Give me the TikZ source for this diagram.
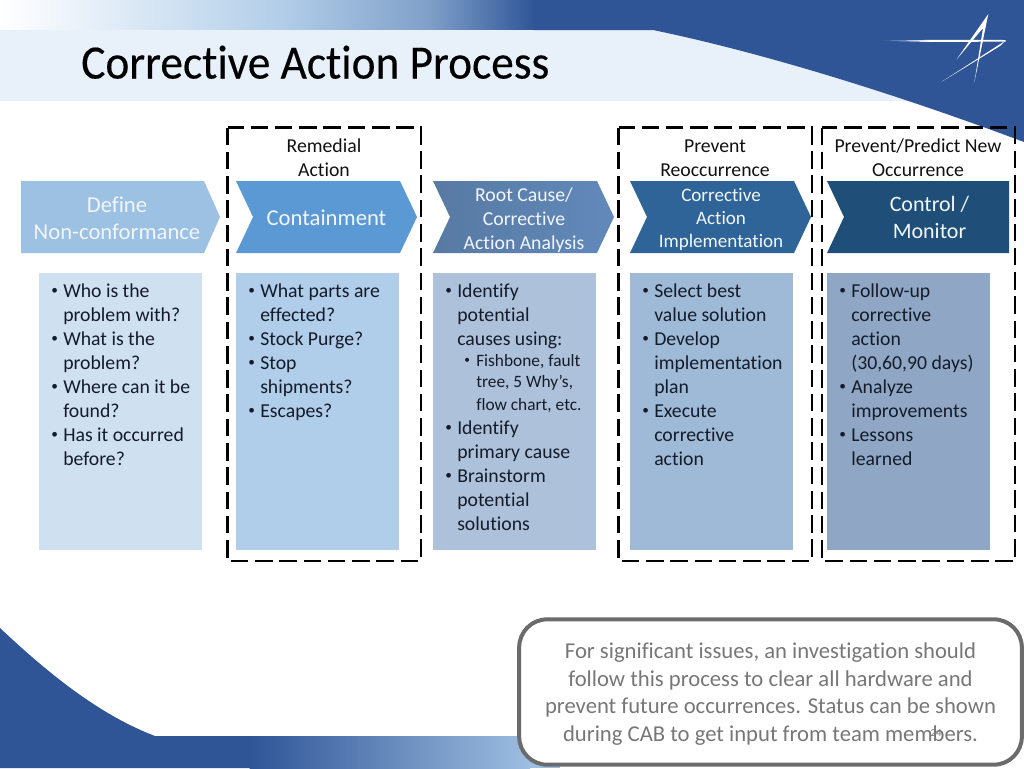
\documentclass[tikz,border=0pt]{standalone}
\usepackage{fontspec}
\setmainfont[Ligatures=CommonOff]{Carlito}
\newfontfamily\titlefont[Ligatures=CommonOff,FakeStretch=0.95,FakeBold=0.35]{Carlito}
\definecolor{swoosh}{HTML}{2F5597}
\definecolor{band}{HTML}{E8F1FA}
\definecolor{tb}{HTML}{E4EEF8}
\definecolor{tc}{HTML}{B2CEE8}
\definecolor{td}{HTML}{7F9FC8}
\definecolor{bb}{HTML}{9DBEE0}
\definecolor{bodyink}{HTML}{141C2B}
\definecolor{labelink}{HTML}{111111}
\definecolor{chevink}{HTML}{F1F6FB}
\definecolor{noteink}{HTML}{777777}
\definecolor{noteedge}{HTML}{6B6B6B}
\definecolor{cha}{HTML}{9DC1E3}
\definecolor{chb}{HTML}{5B99D5}
\definecolor{chcl}{HTML}{587AA3}
\definecolor{chcr}{HTML}{6189BA}
\definecolor{chd}{HTML}{2F6498}
\definecolor{che}{HTML}{1F4E79}
\definecolor{boxa}{HTML}{CFE0F1}
\definecolor{boxb}{HTML}{B0CDE9}
\definecolor{boxc}{HTML}{AEC1DA}
\definecolor{boxd}{HTML}{9FBAD6}
\definecolor{boxe}{HTML}{8FA7C4}
\tikzset{
  px/.style={x=0.75pt,y=-0.75pt},
  chevtext/.style={text=chevink,align=center,inner sep=0pt},
  steplabel/.style={text=labelink,align=center,inner sep=0pt,font=\fontsize{14.8}{18}\selectfont},
  bodytext/.style={text=bodyink,align=left,inner sep=0pt,anchor=north west,font=\fontsize{14.8}{18}\selectfont},
  subtext/.style={text=bodyink,align=left,inner sep=0pt,anchor=north west,font=\fontsize{13}{16}\selectfont},
  groupframe/.style={draw=black,line width=2pt,dash pattern=on 13.2pt off 5pt},
  logostroke/.style={fill=white,draw=none},
}
\newcommand{\Bl}{\makebox[9pt][l]{\raisebox{2.3pt}{\fontsize{10}{10}\selectfont •}}}
\newcommand{\Il}{\hspace*{9pt}}
\begin{document}
\begin{tikzpicture}[px]
\useasboundingbox (0,0) rectangle (1024,768);
% top background
\fill[band] (0,30) rectangle (950,101);
\shade[left color=white,right color=tb] (0,0) rectangle (100,29.6);
\shade[left color=tb,right color=tc] (100,0) rectangle (280,29.6);
\shade[left color=tc,right color=td] (280,0) rectangle (430,29.6);
\shade[left color=td,right color=swoosh] (430,0) rectangle (535,29.6);
\fill[swoosh] (653,30) .. controls (750,50) and (880,88) .. (1024,142) -- (1024,0) -- (534,0) -- (534,30) -- cycle;
% logo
\shade[left color=swoosh,right color=white] (877,40.7) -- (930,39.9) -- (930,42) -- cycle;
\fill[logostroke] (930,39.9) -- (1005.7,40) -- (1005.7,41.6) -- (930,42) -- cycle;
\fill[logostroke] (988.3,14) -- (974.3,82.7) -- (983,28) -- (956.7,59.3) -- cycle;
\fill[logostroke] (1005.7,40.5) -- (941.7,81.7) -- (1000,46) -- cycle;
% bottom background
\fill[swoosh] (0,628) .. controls (50,675) and (100,715) .. (155,736) -- (250,736) -- (250,768) -- (0,768) -- cycle;
\shade[left color=swoosh,right color=bb] (249.5,736) rectangle (530,768);
\fill[bb] (529.5,736) rectangle (560,768);
% chevrons
\fill[cha] (21,181) -- (204,181) -- (220,217) -- (204,253) -- (21,253) -- cycle;
\fill[chb] (236,181) -- (400,181) -- (417,217) -- (400,253) -- (236,253) -- (253,217) -- cycle;
\shade[left color=chcl,right color=chcr] (433,181) -- (597,181) -- (614,217) -- (597,253) -- (433,253) -- (450,217) -- cycle;
\fill[chd] (630,181) -- (794,181) -- (811,217) -- (794,253) -- (630,253) -- (647,217) -- cycle;
\fill[che] (827,181) -- (1009,181) -- (1009,253) -- (827,253) -- (844,217) -- cycle;
% body boxes
\fill[boxa] (39,273) rectangle (202,550);
\fill[boxb] (236,273) rectangle (399,550);
\fill[boxc] (433,273) rectangle (596,550);
\fill[boxd] (630,273) rectangle (793,550);
\fill[boxe] (827,273) rectangle (990,550);
% group frames
\draw[groupframe] (227.5,127.5) rectangle (421,561);
\draw[groupframe] (618.5,127.5) rectangle (812,561);
\draw[groupframe] (822,127.5) rectangle (1015,561);
% title
\node[anchor=base west,inner sep=0pt,text=black,font=\fontsize{35.8}{38}\titlefont] (title) at (81,78.5) {Corrective Action Process};
% group labels
\node[steplabel] (lblremedial) at (324,158) {Remedial\\Action};
\node[steplabel] (lblprevent) at (715,158) {Prevent\\Reoccurrence};
\node[steplabel] (lblpredict) at (918,158) {Prevent/Predict New\\Occurrence};
% chevron texts
\node[chevtext,font=\fontsize{17}{20.5}\selectfont] (define) at (117,218) {Define\\Non-conformance};
\node[chevtext,font=\fontsize{17}{20.5}\selectfont] (contain) at (326.5,218) {Containment};
\node[chevtext,font=\fontsize{14.8}{18}\selectfont] (root) at (524,220.5) {Root Cause/\\Corrective\\Action Analysis};
\node[chevtext,font=\fontsize{14.3}{17}\selectfont] (implement) at (721,219.5) {Corrective\\Action\\Implementation};
\node[chevtext,font=\fontsize{16.5}{20}\selectfont] (control) at (929.5,217.5) {Control /\\Monitor};
% body texts
\node[bodytext] (b1) at (51,284) {\Bl Who is the\\\Il problem with?\\\Bl What is the\\\Il problem?\\\Bl Where can it be\\\Il found?\\\Bl Has it occurred\\\Il before?};
\node[bodytext] (b2) at (248,284) {\Bl What parts are\\\Il effected?\\\Bl Stock Purge?\\\Bl Stop\\\Il shipments?\\\Bl Escapes?};
\node[bodytext] (b3a) at (445,284) {\Bl Identify\\\Il potential\\\Il causes using:};
\node[subtext] (b3b) at (464,354) {\makebox[9pt][l]{\raisebox{2.2pt}{\fontsize{8.5}{8.5}\selectfont •}}Fishbone, fault\\\hspace*{9pt}tree, 5 Why’s,\\[1.2pt]\hspace*{9pt}flow chart, etc.};
\node[bodytext] (b3c) at (445,421) {\Bl Identify\\\Il primary cause\\\Bl Brainstorm\\\Il potential\\\Il solutions};
\node[bodytext] (b4) at (642,284) {\Bl Select best\\\Il value solution\\\Bl Develop\\\Il implementation\\\Il plan\\\Bl Execute\\\Il corrective\\\Il action};
\node[bodytext] (b5) at (839,284) {\Bl Follow-up\\\Il corrective\\\Il action\\\Il (30,60,90 days)\\\Bl Analyze\\\Il improvements\\\Bl Lessons\\\Il learned};
% note
\node[draw=noteedge,line width=3pt,rounded corners=21pt,fill=white,minimum width=377pt,minimum height=109pt,inner sep=0pt] (note) at (770.5,692) {};
\node[inner sep=0pt,text=noteink,align=center,font=\fontsize{17}{20.6}\selectfont] (notetext) at (770.5,694) {For significant issues, an investigation should\\follow this process to clear all hardware and\\prevent future occurrences. Status can be shown\\during CAB to get input from team members.};
\node[text=noteink,inner sep=0pt,font=\fontsize{8}{9}\selectfont] (pagenum) at (936,733) {24};
\end{tikzpicture}
\end{document}
